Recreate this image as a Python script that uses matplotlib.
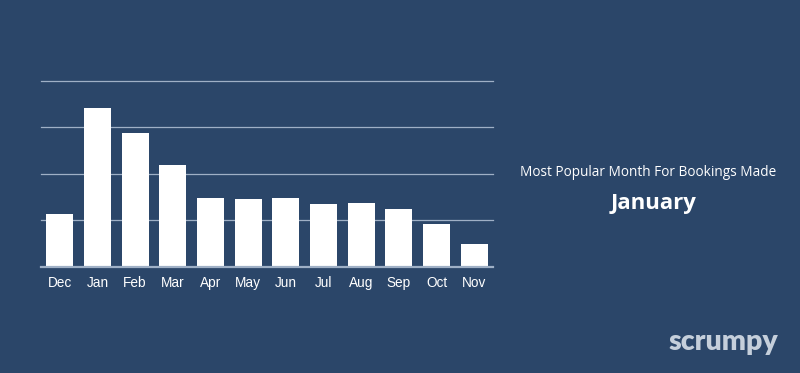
import matplotlib.pyplot as plt

MONTHS = ["Dec", "Jan", "Feb", "Mar", "Apr", "May", "Jun", "Jul", "Aug", "Sep", "Oct", "Nov"]
BOOKINGS = [11.4, 34.2, 28.7, 22.0, 14.9, 14.7, 14.9, 13.5, 13.8, 12.5, 9.2, 4.9]
GRID_LEVELS = [10, 20, 30, 40]
TITLE = "Most Popular Month For Bookings Made"
TOP_MONTH = "January"

BG = "#2b4669"
GRID = "#9fb0c6"
LOGO = "#c5cfdb"

fig = plt.figure(figsize=(8.0, 3.73), dpi=100, facecolor=BG)
ax = fig.add_axes([0.05125, 0.2842, 0.565, 0.4995])
ax.set_facecolor(BG)

x = range(len(MONTHS))
ax.bar(x, BOOKINGS, width=0.72, color="white", zorder=3)
for lvl in GRID_LEVELS:
    ax.axhline(lvl, color=GRID, linewidth=0.9, zorder=1, clip_on=False)
ax.axhline(0, color=GRID, linewidth=1.6, zorder=4, clip_on=False)

ax.set_xlim(-0.5, len(MONTHS) - 0.5)
ax.set_ylim(0, 40)
ax.set_xticks(list(x))
ax.set_xticklabels(MONTHS, fontsize=9.8, color="white", family="Liberation Sans")
ax.tick_params(axis="x", length=0, pad=6.5)
ax.set_yticks([])
for s in ax.spines.values():
    s.set_visible(False)

fig.text(0.81, 1 - 173 / 373, TITLE, ha="center", va="center",
         fontsize=9.8, color="white", family="Open Sans")
fig.text(0.8175, 1 - 203 / 373, TOP_MONTH, ha="center", va="center",
         fontsize=16, fontweight="bold", color="white", family="Open Sans")
fig.text(0.9725, 1 - 342 / 373, "scrumpy", ha="right", va="center",
         fontsize=20.5, fontweight="heavy", color=LOGO, family="Lato")

fig.savefig("out.png", dpi=100, facecolor=BG)
